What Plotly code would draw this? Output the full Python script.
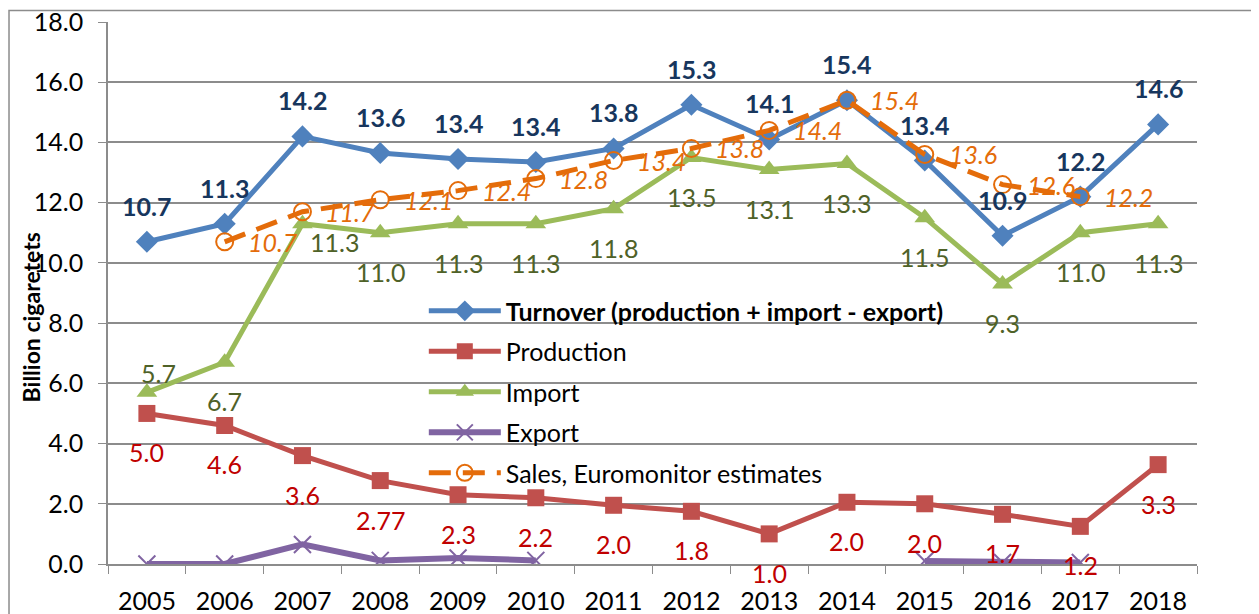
import plotly.graph_objects as go

years = ['2005', '2006', '2007', '2008', '2009', '2010', '2011',
         '2012', '2013', '2014', '2015', '2016', '2017', '2018']

turnover = [10.7, 11.3, 14.2, 13.65, 13.45, 13.35, 13.8, 15.25, 14.1, 15.4, 13.4, 10.9, 12.2, 14.6]
turnover_lbl = ['10.7', '11.3', '14.2', '13.6', '13.4', '13.4', '13.8',
                '15.3', '14.1', '15.4', '13.4', '10.9', '12.2', '14.6']

production = [5.0, 4.6, 3.6, 2.77, 2.3, 2.2, 1.95, 1.75, 1.0, 2.05, 2.0, 1.65, 1.25, 3.3]
production_lbl = ['5.0', '4.6', '3.6', '2.77', '2.3', '2.2', '2.0',
                  '1.8', '1.0', '2.0', '2.0', '1.7', '1.2', '3.3']

imports = [5.7, 6.7, 11.3, 11.0, 11.3, 11.3, 11.8, 13.5, 13.1, 13.3, 11.5, 9.3, 11.0, 11.3]
imports_lbl = ['5.7', '6.7', '11.3', '11.0', '11.3', '11.3', '11.8',
               '13.5', '13.1', '13.3', '11.5', '9.3', '11.0', '11.3']

exports = [0.0, 0.0, 0.65, 0.12, 0.2, 0.12, None, None, None, None, 0.1, 0.05, 0.05, None]

sales = [None, 10.7, 11.7, 12.1, 12.4, 12.8, 13.4, 13.8, 14.4, 15.4, 13.6, 12.6, 12.2, None]
sales_lbl = ['', '10.7', '11.7', '12.1', '12.4', '12.8', '13.4',
             '13.8', '14.4', '15.4', '13.6', '12.6', '12.2', '']

FONT = 'Lato'
FS = 25

fig = go.Figure()

fig.add_trace(go.Scatter(
    x=years, y=turnover, mode='lines+markers', legendgroup='a',
    name='<b>Turnover (production + import - export)</b>',
    line=dict(color='#4F81BD', width=5),
    marker=dict(symbol='diamond', size=17, color='#4F81BD')))
fig.add_trace(go.Scatter(
    x=years, y=production, mode='lines+markers', name='Production', legendgroup='b',
    line=dict(color='#C0504D', width=5),
    marker=dict(symbol='square', size=17, color='#C0504D')))
fig.add_trace(go.Scatter(
    x=years, y=imports, mode='lines+markers', name='Import', legendgroup='c',
    line=dict(color='#9BBB59', width=5),
    marker=dict(symbol='triangle-up', size=18, color='#9BBB59')))
fig.add_trace(go.Scatter(
    x=years, y=exports, mode='lines+markers', name='Export', legendgroup='d',
    line=dict(color='#8064A2', width=6),
    marker=dict(symbol='x-thin-open', size=17, color='#8064A2',
                line=dict(color='#8064A2', width=2))))
fig.add_trace(go.Scatter(
    x=years, y=sales, mode='lines+markers', name='Sales, Euromonitor estimates',
    legendgroup='e',
    line=dict(color='#E46C0A', width=5, dash='22px,12px'),
    marker=dict(symbol='circle-open', size=17, color='#E46C0A',
                line=dict(color='#E46C0A', width=2))))

ann = []
for i in range(len(years)):
    ann.append(dict(x=i, y=turnover[i], text='<b>' + turnover_lbl[i] + '</b>',
                    yshift=36, showarrow=False,
                    font=dict(family=FONT, size=FS, color='#17365D')))
    ann.append(dict(x=i, y=production[i], text=production_lbl[i],
                    yshift=-39, showarrow=False,
                    font=dict(family=FONT, size=FS, color='#C00000')))
    xs, ys = 0, -39
    if i == 0:
        xs, ys = 12, 19
    elif i == 2:
        xs, ys = 32, -18
    ann.append(dict(x=i, y=imports[i], text=imports_lbl[i],
                    xshift=xs, yshift=ys, showarrow=False,
                    font=dict(family=FONT, size=FS, color='#4F6228')))
    if sales[i] is not None:
        ann.append(dict(x=i, y=sales[i], text='<i>' + sales_lbl[i] + '</i>',
                        xshift=48, showarrow=False,
                        font=dict(family=FONT, size=FS, color='#E46C0A')))

ann.append(dict(xref='paper', yref='paper', x=-0.0707, y=0.455,
                xanchor='center', yanchor='middle',
                text='<b>Billion cigaretets</b>', textangle=-90, showarrow=False,
                font=dict(family=FONT, size=23, color='#000000')))

# page body has an 8px margin, so the figure is a little smaller than the window
fig.update_layout(
    width=1251, height=606,
    margin=dict(l=100, r=62, t=14, b=50),
    paper_bgcolor='white', plot_bgcolor='white',
    font=dict(family=FONT, size=FS, color='#000000'),
    showlegend=True,
    legend=dict(x=0.290, y=0.509, xanchor='left', yanchor='top',
                bgcolor='rgba(0,0,0,0)', tracegroupgap=5, itemwidth=72,
                font=dict(family=FONT, size=FS, color='#000000')),
    annotations=ann,
    shapes=[dict(type='rect', xref='paper', yref='paper',
                 x0=-0.0909, x1=1.0523, y0=-0.2, y1=1.021,
                 line=dict(color='#8C8C8C', width=1.5))],
)

fig.update_xaxes(type='category', range=[-0.5, 13.5], tickson='boundaries',
                 ticks='outside', ticklen=8, tickcolor='#8C8C8C',
                 showline=True, linecolor='#8C8C8C', linewidth=1.5,
                 showgrid=False, ticklabelstandoff=14, automargin=False,
                 ticklabeloverflow='allow',
                 tickfont=dict(family=FONT, size=FS, color='#000000'))
fig.update_yaxes(range=[0, 18], dtick=2, tickformat='.1f',
                 ticks='outside', ticklen=8, tickcolor='#8C8C8C',
                 showline=True, linecolor='#8C8C8C', linewidth=1.5,
                 showgrid=True, gridcolor='#8C8C8C', gridwidth=1.5,
                 zeroline=False, ticklabelstandoff=10, automargin=False,
                 ticklabeloverflow='allow',
                 tickfont=dict(family=FONT, size=FS, color='#000000'))

fig.write_html('out.html')
